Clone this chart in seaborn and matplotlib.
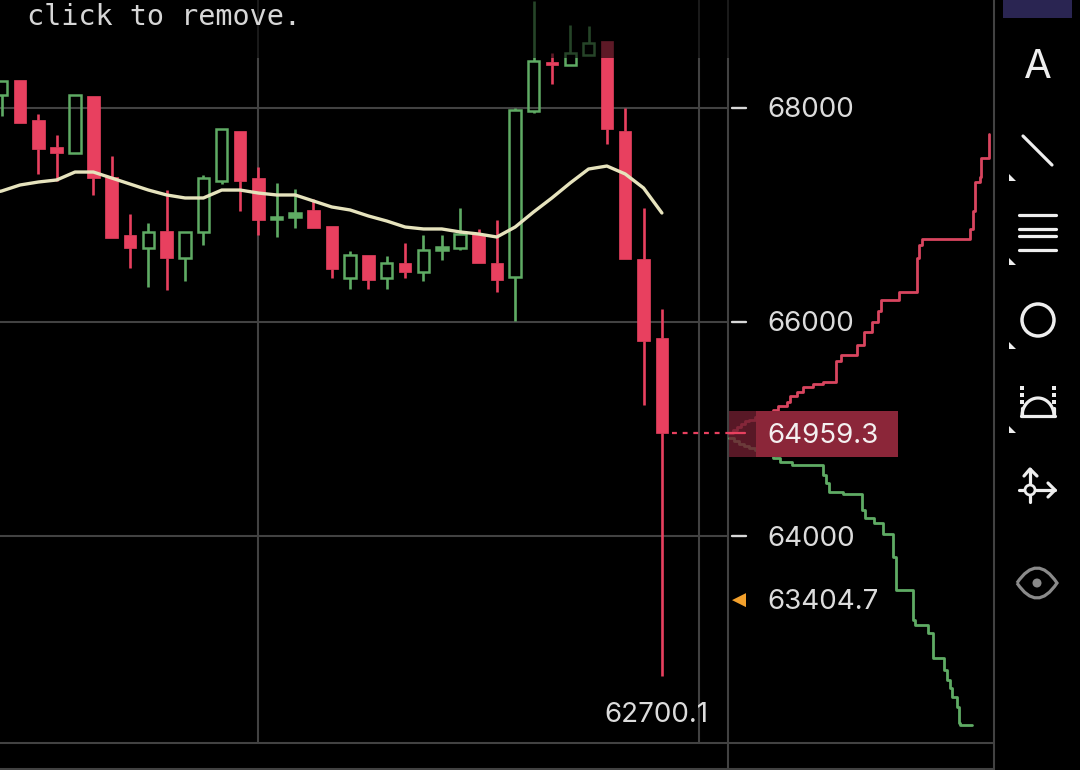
import matplotlib
matplotlib.use("Agg")
import matplotlib.pyplot as plt
from matplotlib.patches import Circle, Polygon, PathPatch, Rectangle
from matplotlib.path import Path
import numpy as np
import pandas as pd
import seaborn as sns

# Candles: bar number, open, high, low, close
bar_no = list(range(-1, 36))
opens = [68112, 68252, 67879, 67636, 67571, 68103, 67356, 66806, 66694, 66852, 66600, 66843, 67319, 67785,
         67347, 66964, 66983, 67048, 66899, 66405, 66628, 66405, 66554, 66470, 66675, 66694, 66824, 66554,
         66423, 67963, 68420, 68401, 68494, 68616, 67785, 66591, 65854]
highs = [68243, 68261, 67944, 67748, 68121, 68103, 67552, 67011, 66918, 67235, 66843, 67375, 67804, 67785,
         67449, 67292, 67238, 67142, 66899, 66666, 66628, 66619, 66740, 66815, 66815, 67058, 66862, 66946,
         67991, 68998, 68504, 68774, 68756, 68616, 67991, 67058, 66125]
lows = [67925, 67851, 67384, 67310, 67571, 67188, 66787, 66507, 66330, 66302, 66377, 66722, 67291, 67039,
        66815, 66796, 66880, 66880, 66405, 66311, 66311, 66311, 66405, 66386, 66582, 66675, 66545, 66283,
        66013, 67953, 68215, 68392, 68494, 67655, 66591, 65229, 62700.1]
closes = [68243, 67860, 67617, 67571, 68121, 67347, 66787, 66694, 66843, 66600, 66843, 67338, 67804, 67319,
          66955, 66983, 67020, 66880, 66498, 66628, 66395, 66554, 66470, 66675, 66703, 66824, 66545, 66395,
          67981, 68438, 68401, 68513, 68606, 67795, 66591, 65826, 64959.3]

# Moving average, one value per bar starting one bar earlier
ma_bars = list(range(-2, 36))
ma_values = [67184, 67221, 67277, 67305, 67324, 67398, 67398, 67342, 67286, 67230, 67184, 67156, 67156,
             67230, 67230, 67202, 67184, 67184, 67128, 67072, 67044, 66988, 66941, 66885, 66867, 66867, 66839,
             66820, 66792, 66885, 67025, 67156, 67296, 67426, 67454, 67380, 67249, 67016]

# Order book depth curves: cumulative size against price
ask_depth = [0, 4, 8, 12, 16, 20, 26, 32, 38, 44, 49, 58, 61, 68, 74, 84, 94, 107, 112, 128, 135, 143, 149,
             152, 170, 188, 190, 193, 241, 244, 246, 251, 252, 252, 260]
ask_price = [64959.3, 64990, 65020, 65050, 65075, 65085, 65110, 65135, 65160, 65178, 65216, 65253, 65309,
             65346, 65393, 65421, 65439, 65635, 65691, 65785, 65906, 66000, 66102, 66204, 66279, 66596, 66717,
             66773, 66867, 67035, 67306, 67352, 67501, 67529, 67753]
bid_depth = [0, 5, 10, 15, 20, 26, 32, 38, 44, 51, 63, 94, 97, 100, 114, 133, 136, 145, 154, 164, 167, 184,
             186, 199, 204, 215, 218, 221, 223, 228, 230, 231, 243]
bid_price = [64915, 64890, 64865, 64845, 64825, 64805, 64780, 64755, 64730, 64693, 64665, 64572, 64497, 64413,
             64395, 64245, 64171, 64124, 64022, 63807, 63499, 63219, 63173, 63098, 62865, 62753, 62660, 62585,
             62501, 62408, 62259, 62240, 62240]

price_ticks = [68000, 66000, 64000]
last_price = 64959.3
mark_price = 63404.7
low_price = 62700.1
notice = "click to remove."

RED = "#e8405f"
GREEN = "#5fab64"
MA_COLOR = "#e6e3bd"
GRID = "#424242"
LABEL = "#dcdcdc"
ICON = "#eeeeee"
UI_FONT = ["Inter", "DejaVu Sans"]

sns.set_theme(style="dark", rc={"axes.facecolor": "black", "figure.facecolor": "black"})

W, H = 1080, 770
fig = plt.figure(figsize=(W / 100, H / 100), dpi=100)

# Price panel: bars spaced 18.34 px apart, 0.1072 px per price unit
ax = fig.add_axes([0, 0, 1, 1], zorder=1)
to_bar = lambda px: (px - 20) / 18.34
to_price = lambda py: 68000 - (py - 107.5) / 0.1072
ax.set_xlim(to_bar(0), to_bar(W))
ax.set_ylim(to_price(H), to_price(0))
ax.axis("off")

# Grid
ax.hlines(price_ticks, to_bar(0), to_bar(728), color=GRID, lw=1.5, zorder=1)
ax.vlines([13, 37], to_price(743), to_price(0), color=GRID, lw=1.5, zorder=1)
ax.vlines(to_bar(728), to_price(770), to_price(0), color=GRID, lw=1.5, zorder=1)
ax.hlines(to_price(743), to_bar(0), to_bar(993), color=GRID, lw=1.5, zorder=1)
ax.hlines(to_price(769), to_bar(0), to_bar(993), color=GRID, lw=1.5, zorder=1)
ax.vlines(to_bar(993.5), to_price(770), to_price(0), color=GRID, lw=1.5, zorder=1)

# Candles: falling bars are solid, rising bars are hollow unless very thin
candles = pd.DataFrame({"bar": bar_no, "open": opens, "high": highs, "low": lows, "close": closes})
for c in candles.itertuples():
    up = c.close >= c.open
    top, bot = max(c.open, c.close), min(c.open, c.close)
    col = GREEN if up else RED
    ax.vlines(c.bar, top, c.high, color=col, lw=1.9, zorder=3)
    ax.vlines(c.bar, c.low, bot, color=col, lw=1.9, zorder=3)
    hollow = up and (top - bot) > 60
    ax.bar(c.bar, top - bot, bottom=bot, width=0.62 if up else 0.68,
           facecolor="none" if hollow else col, edgecolor=col, lw=1.8 if up else 0.5, zorder=3)

# Moving average
sns.lineplot(x=ma_bars, y=ma_values, ax=ax, color=MA_COLOR, lw=2.4, estimator=None, sort=False, zorder=4)

# Depth curves share the price scale, with their own horizontal scale
axd = ax.twiny()
axd.set_xlim(-729, W - 729)
axd.axis("off")
sns.lineplot(x=ask_depth, y=ask_price, ax=axd, color="#d8455f", lw=2.0, estimator=None, sort=False,
             drawstyle="steps-post", zorder=3)
sns.lineplot(x=bid_depth, y=bid_price, ax=axd, color=GREEN, lw=2.0, estimator=None, sort=False,
             drawstyle="steps-post", zorder=3)

# Interface layer in screen pixels
ui = fig.add_axes([0, 0, 1, 1], zorder=2)
ui.set_xlim(0, W)
ui.set_ylim(H, 0)
ui.axis("off")
ui.patch.set_alpha(0)

# Dim band behind the notice
ui.add_patch(Rectangle((0, 0), 992, 58, color="black", alpha=0.6, lw=0))
ui.text(27, 17, notice, family="DejaVu Sans Mono", fontsize=20.5, color="#d6d6d6", va="center", ha="left")

# Axis ticks and labels
y_px = lambda p: ax.transData.transform((0, p))[1]
py = lambda p: H - y_px(p)
for p in price_ticks:
    ui.plot([732, 746], [py(p), py(p)], color="#d8d8d8", lw=1.7)
    ui.text(767, py(p) + 2.5, str(p), family=UI_FONT, fontsize=20, color=LABEL, va="center", ha="left")

# Last price tag
yl = py(last_price)
ui.plot([672, 729], [yl, yl], color=RED, lw=1.6, dashes=(2.2, 2.6))
ui.add_patch(Rectangle((729, 411), 27, 46, color="#6f1f30", alpha=0.8, lw=0))
ui.add_patch(Rectangle((756, 411), 142, 46, color="#8b2639", lw=0))
ui.plot([729, 745], [yl, yl], color=RED, lw=1.6)
ui.text(767, yl + 2.5, f"{last_price}", family=UI_FONT, fontsize=20, color="#f4f0f0", va="center", ha="left")

# Mark price and session low
ym = py(mark_price)
ui.add_patch(Polygon([[732, ym], [746, ym - 7], [746, ym + 7]], color="#f2a02c", lw=0))
ui.text(767, ym + 1.5, f"{mark_price}", family=UI_FONT, fontsize=20, color=LABEL, va="center", ha="left")
ui.text(604, 714.5, f"{low_price}", family=UI_FONT, fontsize=20, color=LABEL, va="center", ha="left")

# Toolbar
ui.add_patch(Rectangle((1003, 0), 69, 18, color="#2a2552", lw=0))
ui.text(1037.5, 67, "A", family=["Inter", "DejaVu Sans"], fontsize=29, color=ICON, va="center", ha="center")
stroke = dict(color=ICON, lw=2.3, solid_capstyle="round")
ui.plot([1023, 1052], [136, 165], **stroke)
for yy in (215, 229, 236, 250):
    ui.plot([1019, 1056], [yy, yy], **stroke)
ui.add_patch(Circle((1038, 320), 16, fill=False, ec=ICON, lw=2.5))
for yy in (181, 265, 349, 433):
    ui.add_patch(Polygon([[1009, yy - 7], [1016, yy], [1009, yy]], color=ICON, lw=0))

# Fibonacci arc icon
theta = np.linspace(np.pi, 0, 40)
ui.plot(1038 + 16 * np.cos(theta), 416 - 18 * np.sin(theta), **stroke)
ui.plot([1021, 1055], [416, 416], **stroke)
for xx in (1022, 1054):
    ui.plot([xx, xx], [408, 416], **stroke)
    for yy in (388, 395, 402):
        ui.add_patch(Rectangle((xx - 2, yy - 2), 4, 4, color=ICON, lw=0))

# Axis-move icon
ui.plot([1030, 1030], [469, 502], **stroke)
ui.plot([1019, 1055], [490, 490], **stroke)
ui.plot([1024, 1030, 1037], [476, 469, 476], **stroke)
ui.plot([1048, 1055, 1048], [483, 490, 497], **stroke)
ui.add_patch(Circle((1030, 490), 5, fc="black", ec=ICON, lw=2.0, zorder=5))

# Visibility icon
eye = Path([(1017, 583), (1037, 553), (1057, 583), (1037, 613), (1017, 583)],
           [Path.MOVETO, Path.CURVE3, Path.CURVE3, Path.CURVE3, Path.CURVE3])
ui.add_patch(PathPatch(eye, fill=False, ec="#8a8a8a", lw=2.3))
ui.add_patch(Circle((1037, 583), 4.5, color="#8a8a8a", lw=0))

fig.savefig("out.png", dpi=100, facecolor="black")
